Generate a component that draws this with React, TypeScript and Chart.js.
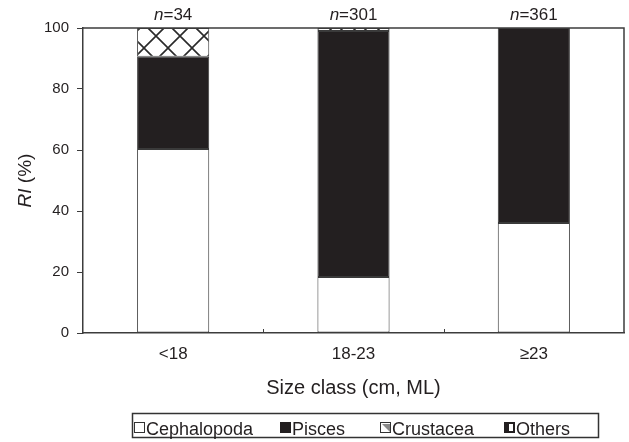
import React, { useEffect, useRef } from "react";
import { Chart, registerables } from "chart.js";
Chart.register(...registerables);

const categories = ["<18", "18-23", "≥23"];
const sampleSizes = [34, 301, 361];
const cephalopoda = [60.3, 18.4, 36.1];
const pisces = [30.3, 80.6, 63.9];
const crustacea = [9.4, 1.0, 0];
const others = [0, 0, 0];
const legendLabels = ["Cephalopoda", "Pisces", "Crustacea", "Others"];

const FONT = "'Liberation Sans', Arial, sans-serif";
const TEXT = "#231f20";
const DARK = "#231f20";
const AXIS = "#3c3c3c";

function makeCrossHatch(): CanvasPattern | string {
  const c = document.createElement("canvas");
  c.width = 24;
  c.height = 24;
  const g = c.getContext("2d");
  if (!g) return "#ffffff";
  g.fillStyle = "#ffffff";
  g.fillRect(0, 0, 24, 24);
  g.strokeStyle = "#2a2a2a";
  g.lineWidth = 1.6;
  g.beginPath();
  g.moveTo(-2, -2);
  g.lineTo(26, 26);
  g.moveTo(26, -2);
  g.lineTo(-2, 26);
  g.stroke();
  const p = g.createPattern(c, "repeat");
  return p || "#ffffff";
}

const decorPlugin = {
  id: "decor",
  afterDraw(chart: any) {
    const ctx = chart.ctx as CanvasRenderingContext2D;
    const { left, right, top, bottom } = chart.chartArea;
    const xs = chart.scales.x;
    ctx.save();
    // top and right frame
    ctx.strokeStyle = AXIS;
    ctx.lineWidth = 1.5;
    ctx.beginPath();
    ctx.moveTo(left, top);
    ctx.lineTo(right, top);
    ctx.lineTo(right, bottom);
    ctx.stroke();
    // x tick marks between categories (inward)
    ctx.lineWidth = 1;
    ctx.beginPath();
    for (let i = 0; i < categories.length - 1; i++) {
      const xm = (xs.getPixelForValue(i) + xs.getPixelForValue(i + 1)) / 2;
      ctx.moveTo(Math.round(xm) + 0.5, bottom);
      ctx.lineTo(Math.round(xm) + 0.5, bottom - 4);
    }
    ctx.stroke();
    // n labels
    ctx.fillStyle = TEXT;
    ctx.textBaseline = "alphabetic";
    sampleSizes.forEach((n, i) => {
      const cx = xs.getPixelForValue(i);
      const italic = `italic 17px ${FONT}`;
      const normal = `17px ${FONT}`;
      ctx.font = italic;
      const w1 = ctx.measureText("n").width;
      ctx.font = normal;
      const rest = "=" + n;
      const w2 = ctx.measureText(rest).width;
      const x0 = cx - (w1 + w2) / 2;
      ctx.textAlign = "left";
      ctx.font = italic;
      ctx.fillText("n", x0, 20);
      ctx.font = normal;
      ctx.fillText(rest, x0 + w1, 20);
    });
    // y title
    ctx.save();
    ctx.translate(31, (top + bottom) / 2);
    ctx.rotate(-Math.PI / 2);
    const it = `italic 19px ${FONT}`;
    const nf = `19px ${FONT}`;
    ctx.font = it;
    const a = ctx.measureText("RI").width;
    ctx.font = nf;
    const b = ctx.measureText(" (%)").width;
    const sx = -(a + b) / 2;
    ctx.textAlign = "left";
    ctx.textBaseline = "alphabetic";
    ctx.font = it;
    ctx.fillText("RI", sx, 0);
    ctx.font = nf;
    ctx.fillText(" (%)", sx + a, 0);
    ctx.restore();
    // legend
    ctx.strokeStyle = "#333";
    ctx.lineWidth = 1.5;
    ctx.strokeRect(132.5, 413.5, 466, 24);
    const starts = [134, 280, 380, 504];
    ctx.font = `18px ${FONT}`;
    ctx.textAlign = "left";
    ctx.textBaseline = "alphabetic";
    legendLabels.forEach((lab, i) => {
      const x = starts[i];
      const y = 422;
      const s = 11;
      ctx.lineWidth = 1;
      if (i === 0) {
        ctx.fillStyle = "#fff";
        ctx.fillRect(x, y, s, s);
        ctx.strokeStyle = "#333";
        ctx.strokeRect(x + 0.5, y + 0.5, s - 1, s - 1);
      } else if (i === 1) {
        ctx.fillStyle = DARK;
        ctx.fillRect(x, y, s, s);
      } else if (i === 2) {
        ctx.fillStyle = "#fff";
        ctx.fillRect(x, y, s, s);
        ctx.fillStyle = "#8a8a8a";
        ctx.beginPath();
        ctx.moveTo(x + 2, y + 2);
        ctx.lineTo(x + s - 1, y + s - 1);
        ctx.lineTo(x + s - 1, y + 2);
        ctx.closePath();
        ctx.fill();
        ctx.strokeStyle = "#333";
        ctx.strokeRect(x + 0.5, y + 0.5, s - 1, s - 1);
      } else {
        ctx.fillStyle = DARK;
        ctx.fillRect(x, y, s, s);
        ctx.fillStyle = "#fff";
        ctx.fillRect(x + 5, y + 2, 4, 7);
      }
      ctx.fillStyle = TEXT;
      ctx.fillText(lab, x + s + 1, 435);
    });
    ctx.restore();
  },
};

export default function App() {
  const ref = useRef<HTMLCanvasElement | null>(null);
  useEffect(() => {
    if (!ref.current) return;
    const hatch = makeCrossHatch();
    const border = "#3a3a3a";
    const common = { borderColor: border, borderWidth: 1, barPercentage: 0.4, categoryPercentage: 1.0, borderSkipped: false };
    const chart = new Chart(ref.current, {
      type: "bar",
      data: {
        labels: categories,
        datasets: [
          { label: legendLabels[0], data: cephalopoda, backgroundColor: "#ffffff", ...common },
          { label: legendLabels[1], data: pisces, backgroundColor: DARK, ...common },
          { label: legendLabels[2], data: crustacea, backgroundColor: hatch as any, ...common },
          { label: legendLabels[3], data: others, backgroundColor: DARK, ...common },
        ],
      },
      options: {
        animation: false,
        responsive: false,
        maintainAspectRatio: false,
        layout: { padding: { top: 28, right: 5, left: 0, bottom: 0 } },
        plugins: { legend: { display: false }, tooltip: { enabled: false } },
        scales: {
          x: {
            stacked: true,
            grid: { display: false, drawTicks: false },
            border: { display: true, color: AXIS, width: 1.5 },
            ticks: { font: { family: FONT, size: 17 }, color: TEXT, padding: 11 },
            title: {
              display: true,
              text: "Size class (cm, ML)",
              font: { family: FONT, size: 20 },
              color: TEXT,
              padding: { top: 0, bottom: 42 },
            },
            afterFit: (s: any) => {
              s.height = 109;
            },
          },
          y: {
            stacked: true,
            min: 0,
            max: 100,
            ticks: { stepSize: 20, font: { family: FONT, size: 15 }, color: TEXT, padding: 8 },
            grid: { drawOnChartArea: false, drawTicks: true, tickLength: 6, color: AXIS },
            border: { display: true, color: AXIS, width: 1.5 },
            afterFit: (s: any) => {
              s.width = 83;
            },
          },
        },
      },
      plugins: [decorPlugin],
    });
    return () => chart.destroy();
  }, []);
  return (
    <div style={{ position: "fixed", left: 0, top: 0, width: 629, height: 442, background: "#fff" }}>
      <canvas ref={ref} width={629} height={442} style={{ display: "block", width: 629, height: 442 }} />
    </div>
  );
}
